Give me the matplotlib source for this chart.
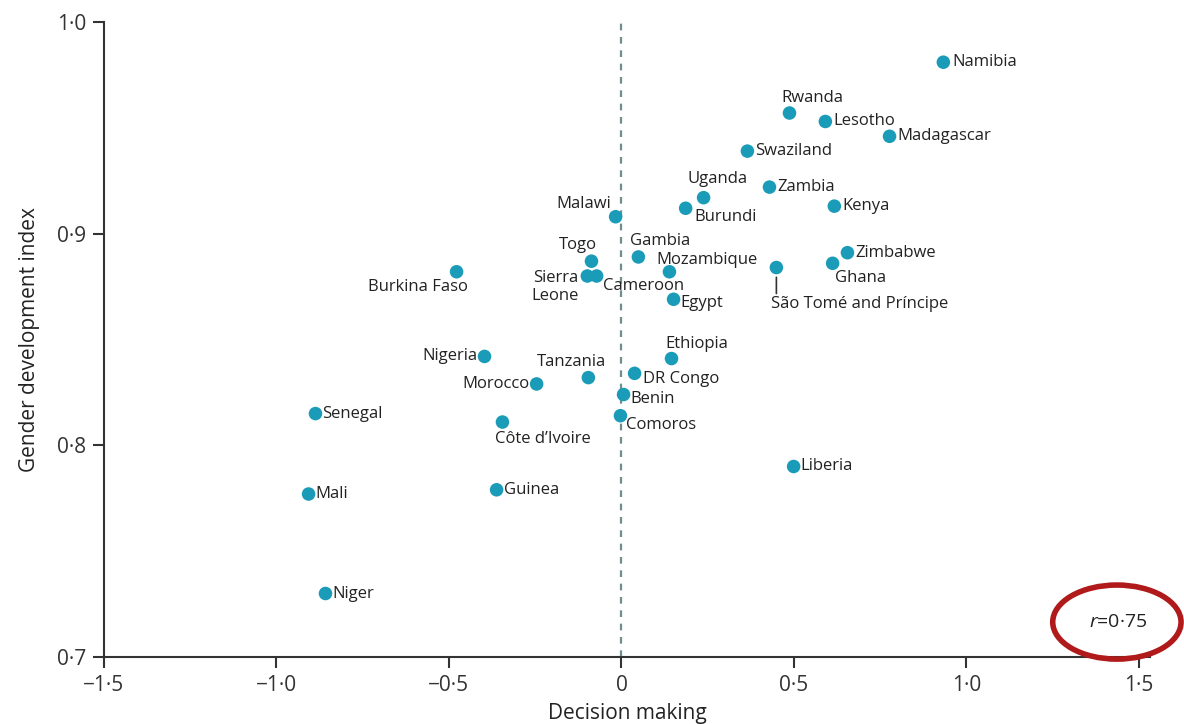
import matplotlib
matplotlib.use("Agg")
import matplotlib.pyplot as plt
from matplotlib.patches import Ellipse

plt.rcParams['font.family'] = ['Open Sans', 'DejaVu Sans']
plt.rcParams['mathtext.fontset'] = 'custom'
plt.rcParams['mathtext.it'] = 'Open Sans:italic'
plt.rcParams['mathtext.rm'] = 'Open Sans'

countries = [
    "Namibia", "Rwanda", "Lesotho", "Madagascar", "Swaziland", "Zambia",
    "Uganda", "Burundi", "Kenya", "Malawi", "Gambia", "Togo",
    "Sierra\nLeone", "Cameroon", "Mozambique", "Zimbabwe", "Ghana",
    "São Tomé and Príncipe", "Egypt", "Burkina Faso", "Nigeria", "Ethiopia",
    "Tanzania", "Morocco", "DR Congo", "Benin", "Comoros", "Senegal",
    "Côte d’Ivoire", "Liberia", "Mali", "Guinea", "Niger",
]
decision_making = [
    0.933, 0.487, 0.591, 0.777, 0.365, 0.429,
    0.238, 0.186, 0.617, -0.017, 0.049, -0.087,
    -0.099, -0.072, 0.139, 0.655, 0.612,
    0.449, 0.151, -0.478, -0.397, 0.145,
    -0.096, -0.246, 0.038, 0.006, -0.003, -0.887,
    -0.345, 0.499, -0.907, -0.362, -0.858,
]
gdi = [
    0.981, 0.957, 0.953, 0.946, 0.939, 0.922,
    0.917, 0.912, 0.913, 0.908, 0.889, 0.887,
    0.880, 0.880, 0.882, 0.891, 0.886,
    0.884, 0.869, 0.882, 0.842, 0.841,
    0.832, 0.829, 0.834, 0.824, 0.814, 0.815,
    0.811, 0.790, 0.777, 0.779, 0.730,
]
x_ticks = [-1.5, -1.0, -0.5, 0, 0.5, 1.0, 1.5]
x_ticklabels = ["−1·5", "−1·0", "−0·5", "0", "0·5", "1·0", "1·5"]
y_ticks = [0.7, 0.8, 0.9, 1.0]
y_ticklabels = ["0·7", "0·8", "0·9", "1·0"]
r_label = "$r$=0·75"

# label placement: (dx, dy) in pixels, horizontal alignment
label_pos = {
    "Namibia": (9, 0, "left"), "Rwanda": (-8, 15, "left"),
    "Lesotho": (8, 0, "left"), "Madagascar": (8, 0, "left"),
    "Swaziland": (8, 0, "left"), "Zambia": (8, 0, "left"),
    "Uganda": (14, 19, "center"), "Burundi": (9, -9, "left"),
    "Kenya": (8, 0, "left"), "Malawi": (-4, 13, "right"),
    "Gambia": (-8, 16, "left"), "Togo": (5, 16, "right"),
    "Sierra\nLeone": (-9, -11, "right"), "Cameroon": (6, -10, "left"),
    "Mozambique": (-13, 12, "left"), "Zimbabwe": (8, 0, "left"),
    "Ghana": (2, -15, "left"), "São Tomé and Príncipe": (-5, -36, "left"),
    "Egypt": (7, -4, "left"), "Burkina Faso": (11, -15, "right"),
    "Nigeria": (-7, 0, "right"), "Ethiopia": (-6, 15, "left"),
    "Tanzania": (-17, 16, "center"), "Morocco": (-7, 0, "right"),
    "DR Congo": (8, -6, "left"), "Benin": (7, -4, "left"),
    "Comoros": (6, -9, "left"), "Senegal": (7, 0, "left"),
    "Côte d’Ivoire": (-7, -17, "left"), "Liberia": (7, 0, "left"),
    "Mali": (7, 0, "left"), "Guinea": (7, 0, "left"), "Niger": (7, 0, "left"),
}

fig = plt.figure(figsize=(11.84, 7.24), dpi=100)
ax = fig.add_axes([104 / 1184, 1 - 657 / 724, 1046 / 1184, 635 / 724])

dot_color = "#1a9bb7"
ax.axvline(0, color="#6f8f8f", lw=1.6, ls=(0, (3, 3)), zorder=1)
ax.scatter(decision_making, gdi, s=95, color=dot_color, edgecolors="none", zorder=3)

for name, x, y in zip(countries, decision_making, gdi):
    dx, dy, ha = label_pos[name]
    ax.annotate(name, (x, y), xytext=(dx, dy), textcoords="offset pixels",
                ha=ha, va="center", fontsize=12, color="#222222",
                multialignment="right", linespacing=1.1, zorder=4)

# leader line for São Tomé and Príncipe
i = countries.index("São Tomé and Príncipe")
ax.annotate("", (decision_making[i], gdi[i]), xytext=(0, -26), textcoords="offset pixels",
            arrowprops=dict(arrowstyle="-", color="#333333", lw=1.2, shrinkA=0, shrinkB=7))

ax.set_xlim(-1.5, 1.532)
ax.set_ylim(0.7, 1.0)
ax.set_xticks(x_ticks)
ax.set_xticklabels(x_ticklabels)
ax.set_yticks(y_ticks)
ax.set_yticklabels(y_ticklabels)
ax.tick_params(axis="both", direction="out", length=8, width=1.5, color="#333333",
               labelsize=15, labelcolor="#333333", pad=5)
for side in ("top", "right"):
    ax.spines[side].set_visible(False)
for side in ("left", "bottom"):
    ax.spines[side].set_color("#333333")
    ax.spines[side].set_linewidth(1.5)

ax.set_xlabel("Decision making", fontsize=15, color="#222222", labelpad=5)
ax.set_ylabel("Gender development index", fontsize=15, color="#222222", labelpad=12)

ax.text(1.44, 0.7165, r_label, ha="center", va="center", fontsize=14, color="#222222")
ax.add_patch(Ellipse((1.436, 0.7165), 0.372, 0.035, fill=False, edgecolor="#b01a1a",
                     lw=4, clip_on=False, zorder=5))

fig.savefig("out.png", dpi=100)
